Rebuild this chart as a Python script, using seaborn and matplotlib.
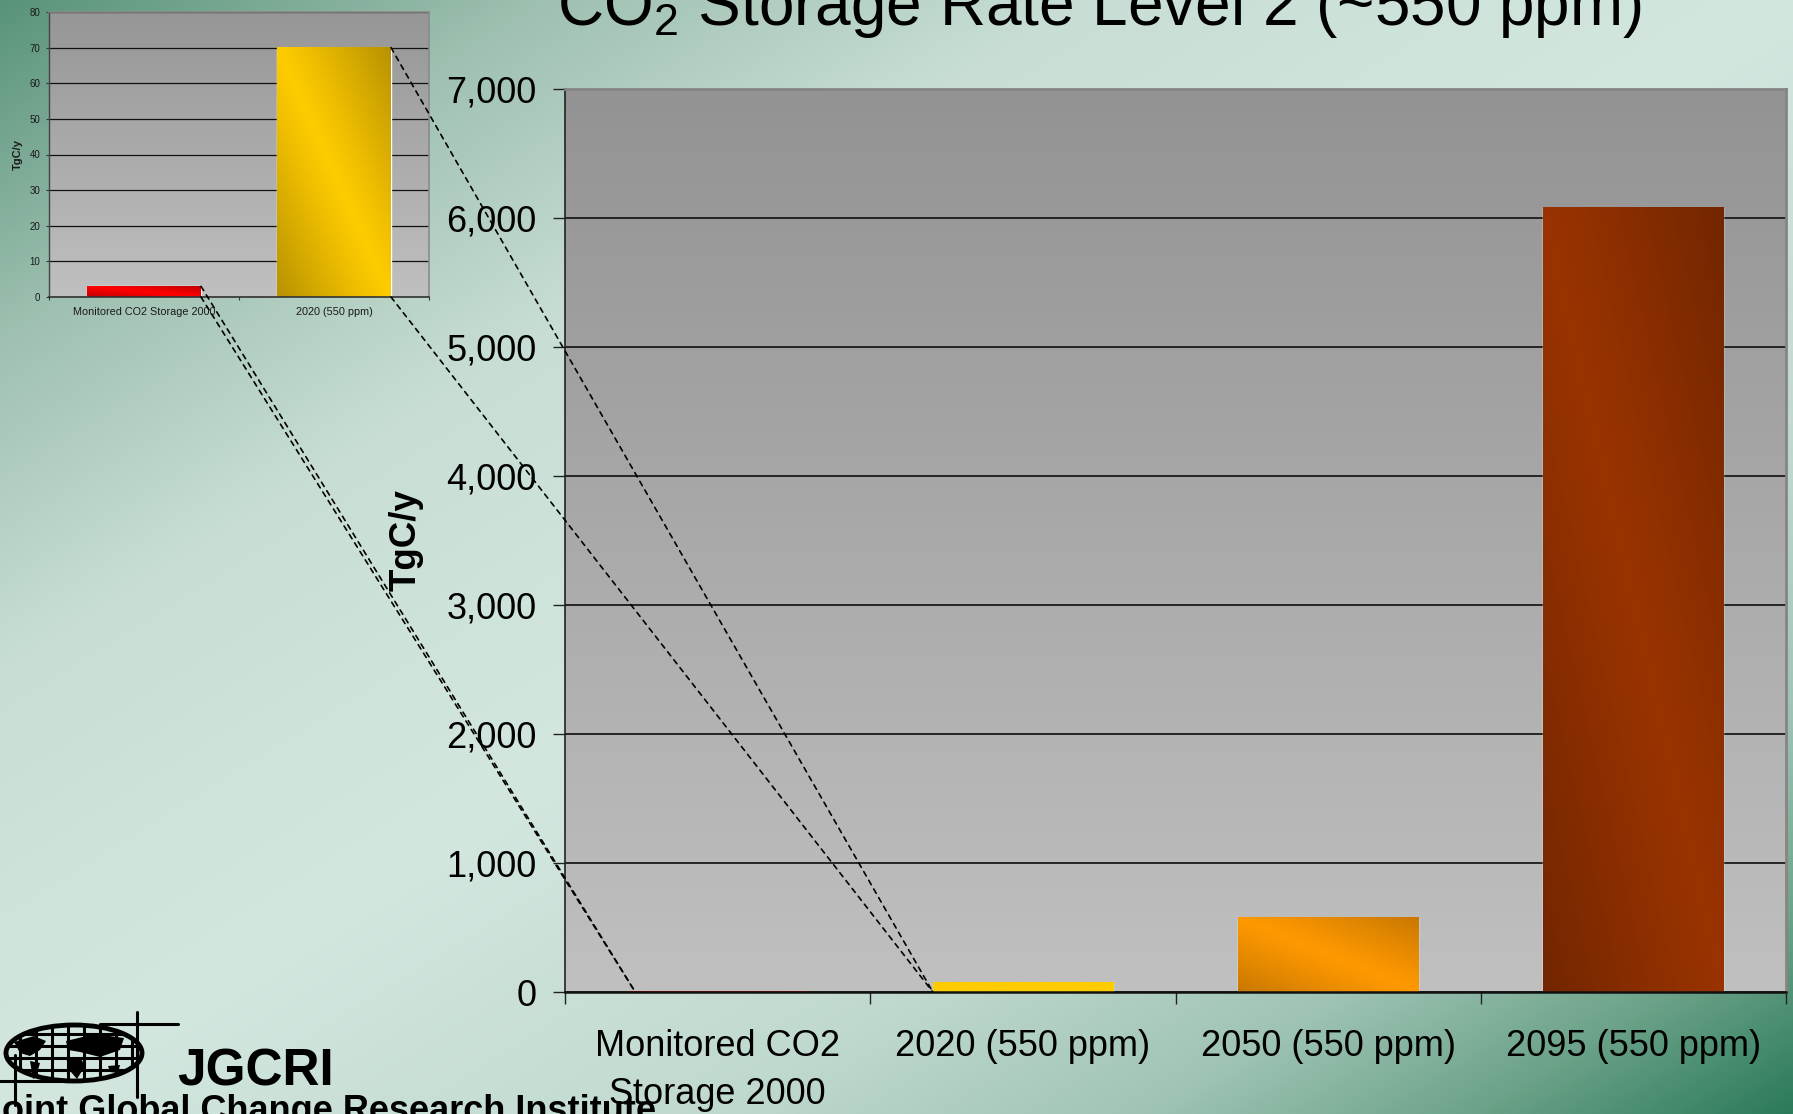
import numpy as np
import matplotlib
matplotlib.use("Agg")
import matplotlib.pyplot as plt
import seaborn as sns
from matplotlib import font_manager
from matplotlib.patches import ConnectionPatch, Ellipse, Polygon
from matplotlib.colors import to_rgb
from matplotlib.ticker import StrMethodFormatter

# ---- data (TgC/y) ----
categories = ["Monitored CO2\nStorage 2000", "2020 (550 ppm)", "2050 (550 ppm)", "2095 (550 ppm)"]
storage_rate = [3, 70, 575, 6080]
main_yticks = [0, 1000, 2000, 3000, 4000, 5000, 6000, 7000]

inset_categories = ["Monitored CO2 Storage 2000", "2020 (550 ppm)"]
inset_rate = [3, 70]
inset_yticks = [0, 10, 20, 30, 40, 50, 60, 70, 80]

bar_light = ["#ff0000", "#ffcc00", "#ff9900", "#993300"]
bar_dark = ["#c80000", "#ffcc00", "#c97800", "#732600"]
inset_light = ["#ff0000", "#ffcc00"]
inset_dark = ["#c00000", "#b89200"]

W, H = 1793, 1114

sns.set_theme(style="ticks")
names = {f.name for f in font_manager.fontManager.ttflist}
plt.rcParams["font.family"] = ["Liberation Sans", "DejaVu Sans"]
plt.rcParams["mathtext.fontset"] = "custom"
plt.rcParams["mathtext.rm"] = "Liberation Sans"
plt.rcParams["mathtext.default"] = "regular"
narrow = "Liberation Sans Narrow" if "Liberation Sans Narrow" in names else None


def ramp(stops, cols, t):
    rgb = np.array([to_rgb(c) for c in cols])
    return np.stack([np.interp(t, stops, rgb[:, k]) for k in range(3)], axis=-1)


def shade_axes(ax, top, bottom):
    t = np.linspace(0, 1, 256)[:, None] * np.ones((1, 4))
    img = ramp([0, 1], [top, bottom], t)
    ax.imshow(img, extent=(0, 1, 0, 1), transform=ax.transAxes, aspect="auto",
              zorder=0, interpolation="bilinear")


def shade_bars(ax, lights, darks):
    n = 64
    u = np.linspace(0, 1, n)[None, :]
    v = np.linspace(0, 1, n)[:, None]
    d = np.abs(u - v) ** 1.1
    for p, lc, dc in zip(ax.patches, lights, darks):
        lc, dc = np.array(to_rgb(lc)), np.array(to_rgb(dc))
        img = lc * (1 - d[..., None]) + dc * d[..., None]
        x0, y0, w, h = p.get_x(), p.get_y(), p.get_width(), p.get_height()
        ax.imshow(img, extent=(x0, x0 + w, y0, y0 + h), aspect="auto",
                  zorder=p.get_zorder() + 0.1, interpolation="bilinear")


fig = plt.figure(figsize=(W / 100, H / 100), dpi=100)

# slide background
bg = fig.add_axes([0, 0, 1, 1], zorder=-5)
yy, xx = np.mgrid[0:1:300j, 0:1:480j]
tt = (xx + yy) / 2
bg_img = ramp([0, 0.15, 0.3, 0.5, 0.7, 0.82, 0.91, 1.0],
              ["#58937a", "#9ec0b0", "#c8ded4", "#d3e7df", "#c0d9ce", "#9fc4b4", "#6da38a", "#2b7a59"], tt)
bg.imshow(bg_img, extent=(0, W, H, 0), aspect="auto", interpolation="bilinear")
bg.set_xlim(0, W)
bg.set_ylim(H, 0)
bg.axis("off")

# JGCRI logo
globe = Ellipse((74, 1053), 136, 56, fill=False, ec="black", lw=3.5)
bg.add_patch(globe)
for gx in [20, 36, 52, 68, 84, 100, 116, 132]:
    ln, = bg.plot([gx, gx], [1020, 1090], color="black", lw=2.2)
    ln.set_clip_path(globe)
for gy in [1034, 1046, 1058, 1070]:
    ln, = bg.plot([0, 150], [gy, gy], color="black", lw=2.2)
    ln.set_clip_path(globe)
bg.plot([100, 178], [1024, 1024], color="black", lw=2.2)
bg.plot([137, 137], [1012, 1097], color="black", lw=2.2)
bg.plot([0, 70], [1081, 1081], color="black", lw=2.2)
bg.plot([15, 15], [1055, 1105], color="black", lw=2.2)
for shape in [
    [(14, 1042), (34, 1036), (46, 1041), (40, 1050), (30, 1056), (20, 1053)],
    [(30, 1061), (40, 1063), (36, 1077), (33, 1079)],
    [(66, 1041), (95, 1034), (124, 1038), (120, 1050), (100, 1057), (80, 1052), (68, 1050)],
    [(66, 1058), (80, 1057), (85, 1066), (77, 1079), (71, 1072)],
    [(108, 1066), (120, 1065), (118, 1073), (110, 1072)],
]:
    bg.add_patch(Polygon(shape, closed=True, fc="black", ec="none"))
if narrow:
    bg.text(177, 1086, "JGCRI", family=narrow, fontweight="bold", fontsize=42,
            ha="left", va="baseline", color="black")
else:
    bg.text(177, 1086, "JGCRI", fontweight="bold", fontsize=37,
            ha="left", va="baseline", color="black")
bg.text(-18, 1121, "Joint Global Change Research Institute", fontweight="bold",
        fontsize=26, ha="left", va="baseline", color="black")

# main chart
ax = fig.add_axes([565 / W, 122 / H, 1221 / W, 903 / H])
sns.barplot(x=categories, y=storage_rate, hue=categories, palette=bar_light,
            legend=False, width=0.59, errorbar=None, saturation=1, ax=ax)
shade_axes(ax, "#939393", "#c0c0c0")
shade_bars(ax, bar_light, bar_dark)
ax.set_axisbelow(True)
ax.yaxis.grid(True, color="#1a1a1a", lw=1.3)
ax.set_yticks(main_yticks)
ax.yaxis.set_major_formatter(StrMethodFormatter("{x:,.0f}"))
ax.set_xticks(range(len(categories)), categories, linespacing=1.45)
ax.set_xticks([-0.5, 0.5, 1.5, 2.5, 3.5], minor=True)
ax.tick_params(axis="y", direction="out", length=8.6, width=1, color="#222222",
               pad=12, labelsize=26, labelcolor="black")
ax.tick_params(axis="x", which="major", length=0, pad=27, labelsize=26, labelcolor="black")
ax.tick_params(axis="x", which="minor", direction="out", length=8.6, width=1, color="#222222")
for s in ["top", "right"]:
    ax.spines[s].set_color("#858585")
    ax.spines[s].set_linewidth(2)
ax.spines["left"].set_color("#222222")
ax.spines["left"].set_linewidth(1.2)
ax.spines["bottom"].set_color("#111111")
ax.spines["bottom"].set_linewidth(1.8)
ax.set_xlabel("")
ax.set_ylabel("")
ax.text(-0.1302, 0.5005, "TgC/y", transform=ax.transAxes, rotation=90, ha="center",
        va="center", fontsize=26.5, fontweight="bold", color="black")
ax.set_xlim(-0.5, 3.5)
ax.set_ylim(0, 7000)

# inset of the first two bars
ax_in = fig.add_axes([49 / W, 817 / H, 380 / W, 285 / H], zorder=1)
sns.barplot(x=inset_categories, y=inset_rate, hue=inset_categories, palette=inset_light,
            legend=False, width=0.6, errorbar=None, saturation=1, ax=ax_in)
shade_axes(ax_in, "#969696", "#c0c0c0")
shade_bars(ax_in, inset_light, inset_dark)
ax_in.set_axisbelow(True)
ax_in.yaxis.grid(True, color="#111111", lw=0.9)
ax_in.set_yticks(inset_yticks)
ax_in.set_xticks([-0.5, 0.5, 1.5], minor=True)
ax_in.tick_params(axis="y", direction="out", length=2.2, width=0.8, color="#333333",
                  pad=4, labelsize=7, labelcolor="#1a1a1a")
ax_in.tick_params(axis="x", which="major", length=0, pad=7.5, labelsize=7.8, labelcolor="#1a1a1a")
ax_in.tick_params(axis="x", which="minor", direction="out", length=2.2, width=0.8, color="#333333")
for s in ["top", "right"]:
    ax_in.spines[s].set_color("#8a8a8a")
    ax_in.spines[s].set_linewidth(1.2)
ax_in.spines["left"].set_color("#444444")
ax_in.spines["left"].set_linewidth(1)
ax_in.spines["bottom"].set_color("#333333")
ax_in.spines["bottom"].set_linewidth(1.2)
ax_in.set_xlabel("")
ax_in.set_ylabel("TgC/y", fontsize=8, fontweight="bold", labelpad=5, color="#1a1a1a")
ax_in.set_xlim(-0.5, 1.5)
ax_in.set_ylim(0, 80)

# dashed zoom lines from the inset to the main axis
half_in = 0.6 / 2
half_main = 0.59 / 2
links = [
    ((1 + half_in, inset_rate[1]), (1 - half_main, 0)),
    ((1 + half_in, 0), (1 - half_main, 0)),
    ((0 + half_in, inset_rate[0]), (-0.27, 0)),
    ((0 + half_in, 0), (-0.27, 0)),
]
for a, b in links:
    con = ConnectionPatch(xyA=a, coordsA=ax_in.transData, xyB=b, coordsB=ax.transData,
                          linestyle=(0, (3, 3)), color="black", lw=1.2, zorder=20)
    fig.add_artist(con)

fig.text(1099 / W, 1 - 25 / H, "CO$_2$ Storage Rate Level 2 (~550 ppm)", ha="center",
         va="baseline", fontsize=46, color="black")

fig.savefig("out.png", dpi=100)
